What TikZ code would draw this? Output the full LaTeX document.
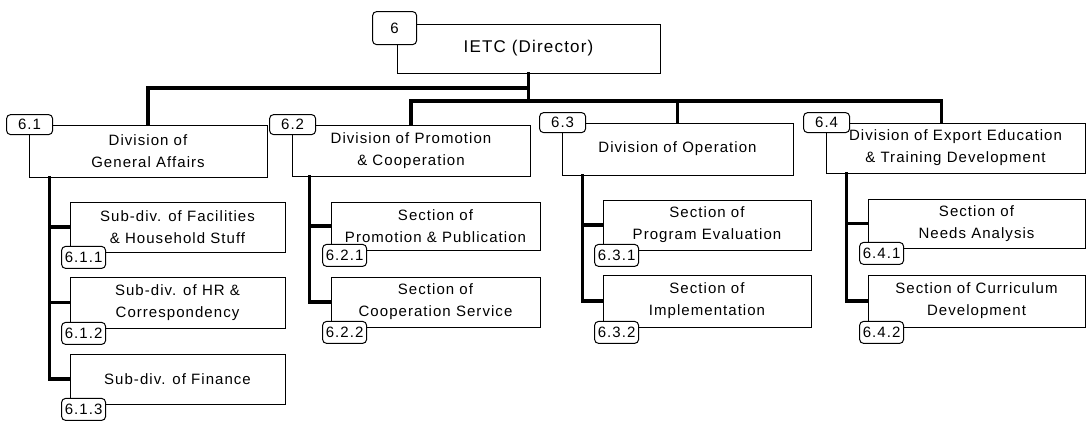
\documentclass[tikz,border=0pt]{standalone}
\usepackage{fontspec}
\setmainfont{Liberation Sans}[LetterSpace=7]
\usetikzlibrary{calc}
\begin{document}
\begin{tikzpicture}[x=1pt,y=-1pt,
  unit/.style={draw, line width=0.8pt, inner sep=0pt, align=center, fill=white,
    font=\fontsize{15}{22}\selectfont},
  tag/.style={draw, line width=1pt, rounded corners=4pt, inner sep=0pt, fill=white,
    minimum width=44pt, minimum height=22pt, font=\fontsize{15}{16}\selectfont},
  bus/.style={line width=3.2pt, line cap=rect}]
\useasboundingbox (0,0) rectangle (1086,421);
\fill[white] (0,0) rectangle (1086,421);

% director
\node[unit, minimum width=263pt, minimum height=49pt, font=\fontsize{17}{20}\selectfont]
  (dir) at (528.5,48.5) {IETC (Director)};

% divisions
\node[unit, minimum width=238pt, minimum height=52pt] (d1) at (148,151) {Division of\\General Affairs};
\node[unit, minimum width=238pt, minimum height=51pt] (d2) at (411,150.5) {Division of Promotion\\\& Cooperation};
\node[unit, minimum width=231pt, minimum height=52pt] (d3) at (677.5,149) {Division of Operation};
\node[unit, minimum width=259pt, minimum height=50pt] (d4) at (955.5,148) {Division of Export Education\\\& Training Development};

% sub-divisions and sections
\node[unit, minimum width=215pt, minimum height=50pt] (s11) at (177.5,227) {Sub-div. of Facilities\\\& Household Stuff};
\node[unit, minimum width=215pt, minimum height=51pt] (s12) at (177.5,302.5) {Sub-div. of HR \&\\Correspondency};
\node[unit, minimum width=215pt, minimum height=50pt] (s13) at (177.5,379) {Sub-div. of Finance};
\node[unit, minimum width=209pt, minimum height=48pt] (s21) at (435.5,226) {Section of\\Promotion \& Publication};
\node[unit, minimum width=209pt, minimum height=50pt] (s22) at (435.5,302) {Section of\\Cooperation Service};
\node[unit, minimum width=208pt, minimum height=50pt] (s31) at (707,225) {Section of\\Program Evaluation};
\node[unit, minimum width=208pt, minimum height=52pt] (s32) at (707,301) {Section of\\Implementation};
\node[unit, minimum width=217pt, minimum height=49pt] (s41) at (976.5,223.5) {Section of\\Needs Analysis};
\node[unit, minimum width=217pt, minimum height=52pt] (s42) at (976.5,301) {Section of Curriculum\\Development};

% top level connectors
\coordinate (busA) at (0,88);
\coordinate (busB) at (0,101);
\coordinate (d4in) at ($(d4.north west)+(116,0)$);
\draw[bus] (dir.south) |- (d1.north |- busA) -- (d1.north);
\draw[bus] (dir.south |- busA) -- (dir.south |- busB);
\draw[bus] (d2.north) |- (d4in |- busB) -- (d4in);
\draw[bus] (d3.north) -- (d3.north |- busB);

% spines below each division
\coordinate (v1) at ($(d1.south west)+(21,0)$);
\coordinate (v2) at ($(d2.south west)+(18,0)$);
\coordinate (v3) at ($(d3.south west)+(21,0)$);
\coordinate (v4) at ($(d4.south west)+(21,0)$);
\draw[bus] (v1) |- (s13.west);
\draw[bus] (v1 |- s11.west) -- (s11.west);
\draw[bus] (v1 |- s12.west) -- (s12.west);
\draw[bus] (v2) |- (s22.west);
\draw[bus] (v2 |- s21.west) -- (s21.west);
\draw[bus] (v3) |- (s32.west);
\draw[bus] (v3 |- s31.west) -- (s31.west);
\draw[bus] (v4) |- (s42.west);
\draw[bus] (v4 |- s41.west) -- (s41.west);

% number tags
\node[tag, minimum height=33pt] (t0) at ($(dir.north west)+(-2,4.5)$) {6};
\node[tag, minimum width=46pt, minimum height=20pt] (t1) at ($(d1.north west)+(1,0)$) {6.1};
\node[tag, minimum width=46pt, minimum height=20pt] (t2) at ($(d2.north west)+(1,0)$) {6.2};
\node[tag, minimum width=46pt, minimum height=20pt] (t3) at ($(d3.north west)+(1,0)$) {6.3};
\node[tag, minimum width=46pt, minimum height=20pt] (t4) at ($(d4.north west)+(1,0)$) {6.4};
\node[tag] (t11) at ($(s11.south west)+(14,5)$) {6.1.1};
\node[tag] (t12) at ($(s12.south west)+(14,5)$) {6.1.2};
\node[tag] (t13) at ($(s13.south west)+(14,5)$) {6.1.3};
\node[tag] (t21) at ($(s21.south west)+(14,5)$) {6.2.1};
\node[tag] (t22) at ($(s22.south west)+(14,5)$) {6.2.2};
\node[tag] (t31) at ($(s31.south west)+(14,5)$) {6.3.1};
\node[tag] (t32) at ($(s32.south west)+(14,5)$) {6.3.2};
\node[tag] (t41) at ($(s41.south west)+(14,5)$) {6.4.1};
\node[tag] (t42) at ($(s42.south west)+(14,5)$) {6.4.2};
\end{tikzpicture}
\end{document}
